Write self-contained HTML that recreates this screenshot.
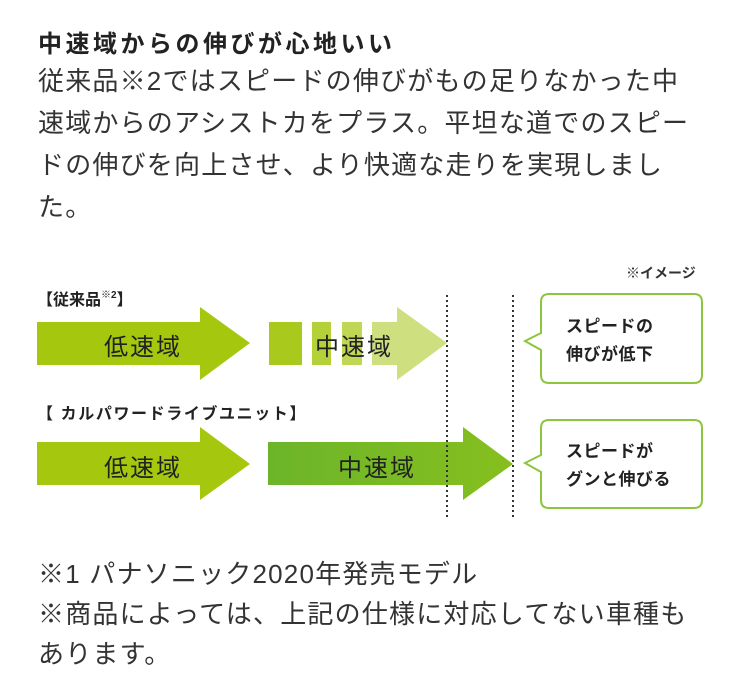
<!DOCTYPE html>
<html><head><meta charset="utf-8"><style>
body{margin:0;width:740px;height:690px;background:#fff;position:relative;font-family:"Liberation Sans","Noto Sans CJK JP",sans-serif;color:#333;overflow:hidden}
.t{position:absolute;white-space:nowrap}
</style></head><body>
<div class="t" style="left:38px;top:24px;font-size:24px;font-weight:bold;color:#222;letter-spacing:3.5px">中速域からの伸びが心地いい</div>
<div class="t" style="left:38px;top:60px;font-size:26px;line-height:42px;letter-spacing:1.2px">従来品※2ではスピードの伸びがもの足りなかった中<br>速域からのアシストカをプラス。平坦な道でのスピー<br>ドの伸びを向上させ、より快適な走りを実現しまし<br>た。</div>
<svg width="740" height="690" style="position:absolute;left:0;top:0">
<polygon points="37,322 200,322 200,307 250,343 200,380 200,365 37,365" fill="#a5c80f"/>
<rect x="269" y="322" width="33" height="43" fill="#a9ca1c"/>
<rect x="312" y="322" width="19" height="43" fill="#b5d13a"/>
<rect x="342" y="322" width="20" height="43" fill="#bfd755"/>
<polygon points="372,322 397,322 397,307 447,343 397,380 397,365 372,365" fill="#cddf7e"/>
<polygon points="37,442 200,442 200,427 250,464 200,500 200,485 37,485" fill="#a5c80f"/>
<defs><linearGradient id="d" x1="0" x2="1"><stop offset="0" stop-color="#6cb52a"/><stop offset="1" stop-color="#86bf1e"/></linearGradient></defs>
<polygon points="268,442 463,442 463,427 513,464 463,500 463,485 268,485" fill="url(#d)"/>
<line x1="447" y1="295" x2="447" y2="518" stroke="#333" stroke-width="2" stroke-dasharray="2,3"/>
<line x1="513" y1="295" x2="513" y2="518" stroke="#333" stroke-width="2" stroke-dasharray="2,3"/>
<path d="M549,294 H694 Q702,294 702,302 V375 Q702,383 694,383 H549 Q541,383 541,375 V350 L525,341 L541,333 V302 Q541,294 549,294 Z" fill="#fff" stroke="#8cc63f" stroke-width="2"/>
<path d="M549,420 H694 Q702,420 702,428 V500 Q702,508 694,508 H549 Q541,508 541,500 V472 L525,463 L541,455 V428 Q541,420 549,420 Z" fill="#fff" stroke="#8cc63f" stroke-width="2"/>
</svg>
<div class="t" style="left:37px;top:286px;font-size:16px;font-weight:bold;color:#222">【従来品<span style="font-size:10px;vertical-align:top">※2</span>】</div>
<div class="t" style="left:37px;top:400px;font-size:16px;font-weight:bold;color:#222;letter-spacing:1.6px">【 カルパワードライブユニット】</div>
<div class="t" style="left:626px;top:263px;font-size:14px;font-weight:bold;color:#333">※イメージ</div>
<div class="t" style="left:104px;top:327px;font-size:24px;color:#222;letter-spacing:2px">低速域</div>
<div class="t" style="left:315px;top:327px;font-size:24px;color:#222;letter-spacing:2px">中速域</div>
<div class="t" style="left:104px;top:448px;font-size:24px;color:#222;letter-spacing:2px">低速域</div>
<div class="t" style="left:338px;top:448px;font-size:24px;color:#222;letter-spacing:2px">中速域</div>
<div class="t" style="left:566px;top:313px;font-size:17px;font-weight:bold;line-height:28px;color:#222;letter-spacing:0.5px">スピードの<br>伸びが低下</div>
<div class="t" style="left:566px;top:438px;font-size:17px;font-weight:bold;line-height:28px;color:#222;letter-spacing:0.5px">スピードが<br>グンと伸びる</div>
<div class="t" style="left:38px;top:554px;font-size:26px;line-height:40px;letter-spacing:1.2px">※1 パナソニック2020年発売モデル<br>※商品によっては、上記の仕様に対応してない車種も<br>あります。</div>
</body></html>
